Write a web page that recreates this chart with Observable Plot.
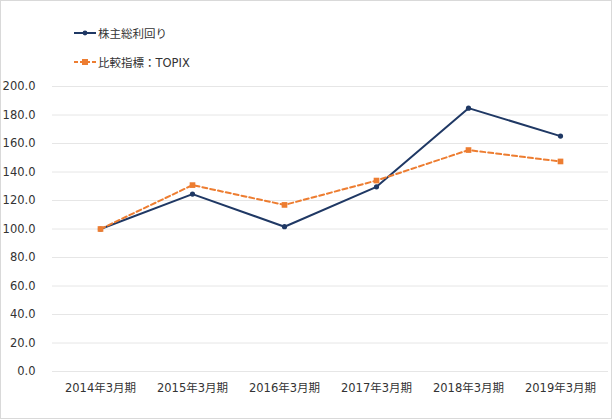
<!DOCTYPE html>
<html>
<head>
<meta charset="utf-8">
<script src="https://cdn.jsdelivr.net/npm/d3@7"></script>
<script src="https://cdn.jsdelivr.net/npm/@observablehq/plot@0.6"></script>
<style>
  body { margin: 0; background: #fff; }
  #wrap { position: relative; width: 613px; height: 419px; overflow: hidden; font-family: "DejaVu Sans", "Noto Sans CJK JP", sans-serif; }
  #border { position: absolute; left: 0; top: 0; width: 612px; height: 419px; box-sizing: border-box; border: 1px solid #d9d9d9; pointer-events: none; }
  #chart { position: absolute; left: 0; top: 0; }
  #legend { position: absolute; left: 74px; top: 24px; font-size: 11.5px; color: #333; }
  .item { display: flex; align-items: center; height: 18px; margin-bottom: 11px; }
  .item svg { margin-right: 2px; }
</style>
</head>
<body>
<div id="wrap">
  <div id="chart"></div>
  <div id="legend"></div>
  <div id="border"></div>
</div>
<script>
const categories = ["2014年3月期", "2015年3月期", "2016年3月期", "2017年3月期", "2018年3月期", "2019年3月期"];
const seriesNames = ["株主総利回り", "比較指標：TOPIX"];
const tsr = [100.0, 124.5, 101.6, 129.6, 184.8, 165.2];
const topix = [100.0, 130.8, 116.9, 134.0, 155.4, 147.4];
const yTicks = [0, 20, 40, 60, 80, 100, 120, 140, 160, 180, 200];

const navy = "#1f3864";
const orange = "#ed7d31";

const data1 = categories.map((c, i) => ({cat: c, v: tsr[i]}));
const data2 = categories.map((c, i) => ({cat: c, v: topix[i]}));

const plot = Plot.plot({
  width: 613,
  height: 419,
  marginLeft: 52,
  marginRight: 5,
  marginTop: 86,
  marginBottom: 48,
  style: {fontFamily: '"DejaVu Sans", "Noto Sans CJK JP", sans-serif', fontSize: "11.5px", color: "#333", background: "transparent"},
  x: {type: "point", domain: categories, padding: 0.5, label: null, tickSize: 0, tickPadding: 12},
  y: {domain: [0, 200], ticks: yTicks, tickFormat: d3.format(".1f"), label: null, tickSize: 0, tickPadding: 17},
  marks: [
    Plot.ruleY(yTicks, {stroke: "#e6e6e6", strokeWidth: 1}),
    Plot.line(data1, {x: "cat", y: "v", stroke: navy, strokeWidth: 2}),
    Plot.dot(data1, {x: "cat", y: "v", r: 2.6, fill: navy, stroke: "none"}),
    Plot.line(data2, {x: "cat", y: "v", stroke: orange, strokeWidth: 2, strokeDasharray: "5,3"}),
    Plot.dot(data2, {x: "cat", y: "v", symbol: "square", r: 3.2, fill: orange, stroke: "none"})
  ]
});
document.getElementById("chart").appendChild(plot);

const legend = document.getElementById("legend");
const styles = [
  {color: navy, dash: null, marker: "circle"},
  {color: orange, dash: "4,2", marker: "square"}
];
seriesNames.forEach((name, i) => {
  const s = styles[i];
  const item = document.createElement("div");
  item.className = "item";
  const marker = s.marker === "circle"
    ? `<circle cx="11" cy="9" r="2.4" fill="${s.color}"/>`
    : `<rect x="8" y="6" width="6" height="6" fill="${s.color}"/>`;
  item.innerHTML = `<svg width="22" height="18"><line x1="0" x2="22" y1="9" y2="9" stroke="${s.color}" stroke-width="2" ${s.dash ? `stroke-dasharray="${s.dash}"` : ""}/>${marker}</svg><span>${name}</span>`;
  legend.appendChild(item);
});
</script>
</body>
</html>
